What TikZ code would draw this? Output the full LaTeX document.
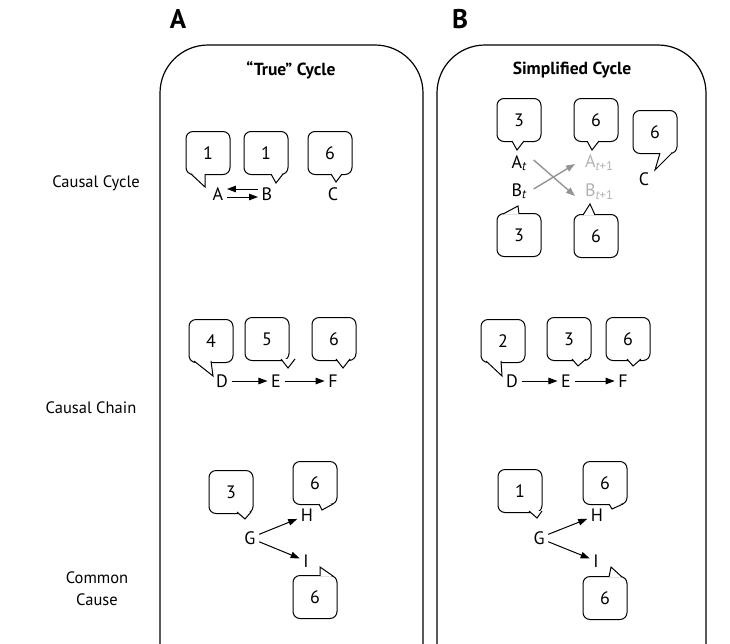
\documentclass[tikz,border=0pt]{standalone}
\usepackage{fontspec}
\setmainfont{PT Sans}
\usetikzlibrary{arrows.meta}

% tail of a speech bubble: base point, tip, base point
\newcommand{\btail}[3]{%
  \fill[white] (#1) -- (#2) -- (#3) -- cycle;
  \draw[line width=1pt,line join=miter] (#1) -- (#2) -- (#3);}

\begin{document}
\begin{tikzpicture}[x=1pt,y=-1pt,
      panel/.style={draw,line width=1.2pt,rounded corners=48pt},
      bubble/.style={draw,line width=1pt,rounded corners=7pt,minimum width=44pt,minimum height=43pt,font=\fontsize{18}{18}\selectfont},
      var/.style={inner sep=3.5pt,font=\fontsize{18}{18}\selectfont},
      later/.style={var,text=black!30},
      rowlabel/.style={align=center,font=\fontsize{16.5}{22}\selectfont},
      title/.style={font=\bfseries\fontsize{17.5}{17.5}\selectfont},
      causes/.style={-{Triangle[length=9pt,width=6.5pt]},line width=1pt},
      crosses/.style={-{Triangle[length=9pt,width=6.5pt]},line width=1.4pt,black!42}]
    \useasboundingbox (0,0) rectangle (730,643);
    \clip (0,0) rectangle (730,643);

    % Panels
    \draw[panel] (160,45) rectangle (423,720);
    \draw[panel] (437,45) rectangle (706,720);
    \node[font=\bfseries\fontsize{27}{27}\selectfont] (labA) at (178,19) {A};
    \node[font=\bfseries\fontsize{27}{27}\selectfont] (labB) at (460,19) {B};
    \node[title] (titleA) at (291,70) {“True” Cycle};
    \node[title] (titleB) at (572,70) {Simplified Cycle};

    % Row labels
    \node[rowlabel] (rowcycle) at (96,183) {Causal Cycle};
    \node[rowlabel] (rowchain) at (91,408) {Causal Chain};
    \node[rowlabel] (rowcommon) at (97,589) {Common\\Cause};

    % True cycle
    \node[bubble] (ca1) at (208,153) {1};
    \node[bubble] (cb1) at (266,153) {1};
    \node[bubble] (cc1) at (330,153) {6};
    \btail{191,174}{205,187}{205,174}
    \btail{271,174}{276,183}{283,174}
    \btail{331,174}{336,182}{342,174}
    \node[var] (A) at (218,194) {A};
    \node[var] (B) at (267,194) {B};
    \node[var] (C) at (333,194) {C};
    \draw[causes] ([yshift=5pt]B.west) -- ([yshift=5pt]A.east);
    \draw[causes] ([yshift=-3pt]A.east) -- ([yshift=-3pt]B.west);

    % True chain
    \node[bubble] (cd1) at (211,341) {4};
    \node[bubble] (ce1) at (267,339) {5};
    \node[bubble] (cf1) at (334,339) {6};
    \btail{194,361}{213,376}{211,361}
    \btail{281,359}{288,368}{295,359}
    \btail{336,359}{343,368}{350,359}
    \node[var] (D) at (222,381) {D};
    \node[var] (E) at (276,381) {E};
    \node[var] (F) at (333,381) {F};
    \draw[causes] (D) -- (E);
    \draw[causes] (E) -- (F);

    % True common cause
    \node[bubble] (cg1) at (231,492) {3};
    \node[bubble] (ch1) at (315,483) {6};
    \node[bubble] (ci1) at (315,597) {6};
    \btail{237,512}{245,519}{251,512}
    \btail{319,504}{322,510}{333,504}
    \btail{320,576}{320,567}{333,576}
    \node[var] (G) at (250,538) {G};
    \node[var] (H) at (307,515) {H};
    \node[var] (I) at (306,561) {I};
    \draw[causes] (G) -- (H);
    \draw[causes] (G) -- (I);

    % Simplified cycle
    \node[bubble] (sa1) at (519,120) {3};
    \node[bubble] (sa2) at (596,120) {6};
    \node[bubble] (sc2) at (655,132) {6};
    \node[bubble] (sb1) at (519,235) {3};
    \node[bubble] (sb2) at (596,236) {6};
    \btail{512,141}{517,150}{524,141}
    \btail{587,141}{592,150}{599,141}
    \btail{660,153}{655,170}{672,153}
    \btail{503,214}{518,206}{519,214}
    \btail{583,215}{590,204}{595,215}
    \node[var,inner sep=1pt] (At) at (519,163) {A\textsubscript{\itshape t}};
    \node[var,inner sep=1pt] (Bt) at (519,191) {B\textsubscript{\itshape t}};
    \node[later,inner sep=1pt,anchor=west] (At1) at (584,163) {A\textsubscript{\itshape t\upshape+1}};
    \node[later,inner sep=1pt,anchor=west] (Bt1) at (584,192) {B\textsubscript{\itshape t\upshape+1}};
    \node[var] (Cs) at (644,179) {C};
    \draw[crosses] (At.east) ++(6,-3) -- ([xshift=-9pt,yshift=-4pt]Bt1.west);
    \draw[crosses] (Bt.east) ++(6,-2) -- ([xshift=-9pt,yshift=-1pt]At1.west);

    % Simplified chain
    \node[bubble] (sd1) at (503,341) {2};
    \node[bubble] (se1) at (569,339) {3};
    \node[bubble] (sf1) at (628,339) {6};
    \btail{486,361}{502,376}{501,361}
    \btail{572,359}{578,366}{586,359}
    \btail{627,359}{633,366}{641,359}
    \node[var] (Ds) at (512,381) {D};
    \node[var] (Es) at (566,381) {E};
    \node[var] (Fs) at (623,381) {F};
    \draw[causes] (Ds) -- (Es);
    \draw[causes] (Es) -- (Fs);

    % Simplified common cause
    \node[bubble] (sg1) at (520,491) {1};
    \node[bubble] (sh1) at (605,483) {6};
    \node[bubble] (si1) at (605,598) {6};
    \btail{529,511}{537,518}{542,511}
    \btail{609,504}{612,509}{623,504}
    \btail{609,577}{611,567}{622,577}
    \node[var] (Gs) at (539,538) {G};
    \node[var] (Hs) at (597,515) {H};
    \node[var] (Is) at (596,561) {I};
    \draw[causes] (Gs) -- (Hs);
    \draw[causes] (Gs) -- (Is);

  \end{tikzpicture}
\end{document}
